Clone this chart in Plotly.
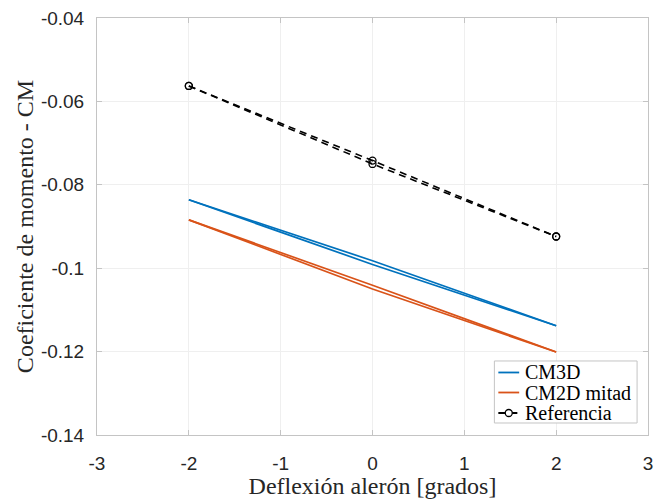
import plotly.graph_objects as go

# Deflection sweep (degrees): two passes from -2 to +2, separated by a gap
defl = [-2, 0, 2, None, -2, 0, 2]

# Moment coefficient results for both passes
cm3d = [-0.0836, -0.0982, -0.1138, None, -0.0836, -0.0991, -0.1138]
cm2d_mitad = [-0.0884, -0.1041, -0.1201, None, -0.0884, -0.1050, -0.1201]
referencia = [-0.0563, -0.0742, -0.0924, None, -0.0563, -0.0750, -0.0924]

x_ticks = [-3, -2, -1, 0, 1, 2, 3]
x_labels = ["-3", "-2", "-1", "0", "1", "2", "3"]
y_ticks = [-0.14, -0.12, -0.10, -0.08, -0.06, -0.04]
y_labels = ["-0.14", "-0.12", "-0.1", "-0.08", "-0.06", "-0.04"]

series_names = ["CM3D", "CM2D mitad", "Referencia"]
series_colors = ["#0072BD", "#D95319", "black"]

serif = "Liberation Serif"
sans = "Liberation Sans"
text_color = "#262626"
grid_color = "#efefef"
axis_color = "#c4c4c4"
ref_dash = "7px,5px"

fig = go.Figure()
fig.add_trace(go.Scatter(
    x=defl, y=cm3d, name=series_names[0], mode="lines", connectgaps=False,
    line=dict(color=series_colors[0], width=1.7),
))
fig.add_trace(go.Scatter(
    x=defl, y=cm2d_mitad, name=series_names[1], mode="lines", connectgaps=False,
    line=dict(color=series_colors[1], width=1.7),
))
fig.add_trace(go.Scatter(
    x=defl, y=referencia, name=series_names[2], mode="lines+markers",
    connectgaps=False,
    line=dict(color=series_colors[2], width=1.6, dash=ref_dash),
    marker=dict(symbol="circle-open", size=7, color="black",
                line=dict(width=1.3, color="black")),
))

# Boxed legend in the lower right corner of the axes (paper coordinates)
box = dict(x0=0.7212, x1=0.9802, y0=0.0288, y1=0.1775)
row_y = [0.1499, 0.1019, 0.0528]
sample_x0, sample_x1, text_x = 0.7284, 0.7662, 0.7734

shapes = [dict(type="rect", xref="paper", yref="paper", layer="above",
               line=dict(color="#c4c4c4", width=1), fillcolor="white", **box)]
annotations = []
for i, name in enumerate(series_names):
    dash = ref_dash if name == "Referencia" else "solid"
    shapes.append(dict(type="line", xref="paper", yref="paper", layer="above",
                       x0=sample_x0, x1=sample_x1, y0=row_y[i], y1=row_y[i],
                       line=dict(color=series_colors[i], width=1.8, dash=dash)))
    annotations.append(dict(text=name, xref="paper", yref="paper",
                            x=text_x, y=row_y[i], xanchor="left", yanchor="middle",
                            showarrow=False,
                            font=dict(family=serif, size=20, color="black")))
shapes.append(dict(type="circle", xref="paper", yref="paper", layer="above",
                   xsizemode="pixel", ysizemode="pixel",
                   xanchor=(sample_x0 + sample_x1) / 2, yanchor=row_y[2],
                   x0=-3.5, x1=3.5, y0=-3.5, y1=3.5,
                   fillcolor="white", line=dict(color="black", width=1.3)))

fig.update_layout(
    width=658, height=499,
    margin=dict(l=97, r=5, t=18, b=64),
    paper_bgcolor="white", plot_bgcolor="white",
    font=dict(family=serif, size=20, color=text_color),
    showlegend=False,
    shapes=shapes,
    annotations=annotations,
    xaxis=dict(
        range=[-3, 3], tickmode="array", tickvals=x_ticks, ticktext=x_labels,
        showgrid=True, gridcolor=grid_color, gridwidth=1, zeroline=False,
        showline=True, linecolor=axis_color, linewidth=1, mirror="ticks",
        ticks="inside", ticklen=5, tickcolor=axis_color,
        ticklabelstandoff=11, ticklabeloverflow="allow",
        tickfont=dict(family=sans, size=19, color=text_color),
        title=dict(text="Deflexión alerón [grados]", standoff=0,
                   font=dict(family=serif, size=24, color=text_color)),
    ),
    yaxis=dict(
        range=[-0.14, -0.04], tickmode="array", tickvals=y_ticks, ticktext=y_labels,
        showgrid=True, gridcolor=grid_color, gridwidth=1, zeroline=False,
        showline=True, linecolor=axis_color, linewidth=1, mirror="ticks",
        ticks="inside", ticklen=5, tickcolor=axis_color,
        ticklabelstandoff=8, ticklabeloverflow="allow",
        tickfont=dict(family=sans, size=19, color=text_color),
        title=dict(text="Coeficiente de momento - CM", standoff=0,
                   font=dict(family=serif, size=24, color=text_color)),
    ),
)

fig.write_html("out.html")
